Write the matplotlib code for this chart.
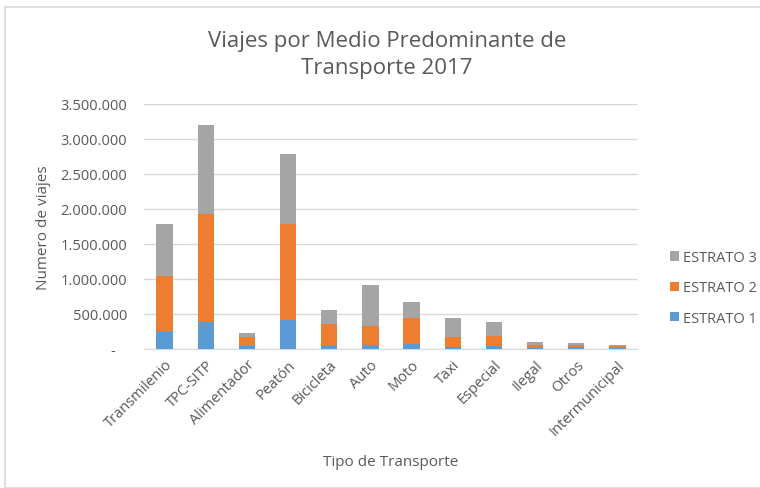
import matplotlib.pyplot as plt
import numpy as np
from matplotlib.ticker import FuncFormatter
from matplotlib.patches import Rectangle

# Viajes por medio predominante de transporte, por estrato (2017)
categorias = ["Transmilenio", "TPC-SITP", "Alimentador", "Peatón", "Bicicleta",
              "Auto", "Moto", "Taxi", "Especial", "Ilegal", "Otros", "Intermunicipal"]
estrato_1 = [240000, 378000, 40000, 407000, 54000, 54000, 64000, 17000, 31000, 10000, 15000, 5000]
estrato_2 = [791000, 1543000, 129000, 1376000, 296000, 263000, 372000, 147000, 143000, 44000, 39000, 26000]
estrato_3 = [747000, 1272000, 48000, 996000, 200000, 594000, 228000, 272000, 200000, 35000, 25000, 19000]

series = [("ESTRATO 1", estrato_1, "#5B9BD5"),
          ("ESTRATO 2", estrato_2, "#ED7D31"),
          ("ESTRATO 3", estrato_3, "#A5A5A5")]

plt.rcParams["font.family"] = ["Open Sans", "DejaVu Sans"]
gris = "#595959"

fig = plt.figure(figsize=(7.6, 4.89), dpi=100)
ax = fig.add_axes([144/760, 1 - 349.5/489, 494/760, 244.5/489])

# marco del gráfico
fig.patches.append(Rectangle((5/760, 0), 1, 1 - 8/489, transform=fig.transFigure,
                             fill=False, edgecolor="#D9D9D9", lw=1.2))

x = np.arange(len(categorias))
base = np.zeros(len(categorias))
handles = {}
for nombre, vals, color in series:
    vals = np.array(vals)
    b = ax.bar(x, vals, width=0.4, bottom=base, color=color, zorder=3)
    handles[nombre] = b
    base += vals

ax.set_xlim(-0.5, len(categorias) - 0.5)
ax.set_ylim(0, 3500000)
ax.set_yticks(np.arange(0, 3500001, 500000))
ax.yaxis.set_major_formatter(FuncFormatter(
    lambda v, p: "-   " if v == 0 else f"{int(v):,}".replace(",", ".")))
ax.grid(axis="y", color="#D9D9D9", lw=1, zorder=0)
for s in ["top", "right", "left"]:
    ax.spines[s].set_visible(False)
ax.spines["bottom"].set_color("#D9D9D9")
ax.tick_params(axis="both", length=0, colors=gris, labelsize=10.5)
ax.tick_params(axis="y", pad=12)
ax.tick_params(axis="x", pad=6)

ax.set_xticks(x)
ax.set_xticklabels(categorias, rotation=45, ha="right", rotation_mode="anchor")

ax.set_ylabel("Numero de viajes", color=gris, fontsize=11, labelpad=7)
ax.set_xlabel("Tipo de Transporte", color=gris, fontsize=11, labelpad=12)

fig.text(387/760, 1 - 55/489, "Viajes por Medio Predominante de\nTransporte 2017",
         ha="center", va="center", fontsize=16, color=gris, linespacing=1.35)

leg = fig.legend([handles[n] for n in ["ESTRATO 3", "ESTRATO 2", "ESTRATO 1"]],
                 ["ESTRATO 3", "ESTRATO 2", "ESTRATO 1"],
                 loc="center left", bbox_to_anchor=(657/760, 1 - 289/489),
                 frameon=False, fontsize=10.5, labelcolor=gris,
                 handlelength=0.6, handleheight=0.6, handletextpad=0.3,
                 labelspacing=1.05)

fig.savefig("out.png", dpi=100)
